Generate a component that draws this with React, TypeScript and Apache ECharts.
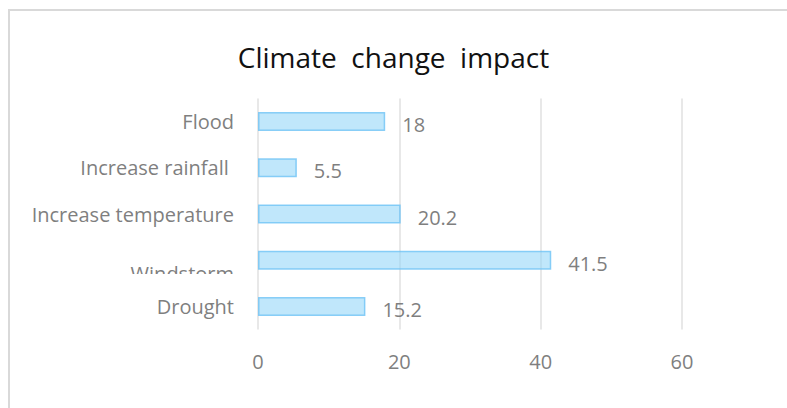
import React, { useEffect, useRef } from "react";
import * as echarts from "echarts";

// Categories listed top to bottom
const categories = ["Flood", "Increase rainfall ", "Increase temperature", "Windstorm", "Drought"];
const impactValues = [18, 5.5, 20.2, 41.5, 15.2];
const axisTicks = { min: 0, max: 80, interval: 20 };

const FONT = "'Open Sans', 'Noto Sans', sans-serif";
const GRAY = "#7f7f7f";

export default function App() {
  const ref = useRef<HTMLDivElement>(null);

  useEffect(() => {
    if (!ref.current) return;
    const chart = echarts.init(ref.current, undefined, { renderer: "svg" });
    chart.setOption({
      animation: false,
      backgroundColor: "#ffffff",
      title: {
        text: "Climate  change  impact",
        left: "center",
        top: 38,
        textStyle: { fontFamily: FONT, fontSize: 28, fontWeight: "normal", color: "#111111" },
      },
      graphic: [
        {
          type: "rect",
          z: -1,
          shape: { x: 9, y: 10, width: 900, height: 500 },
          style: { fill: "none", stroke: "#d9d9d9", lineWidth: 2 },
        },
        {
          // the lower part of the Windstorm label is hidden behind the plot edge
          type: "rect",
          z: 100,
          shape: { x: 90, y: 274, width: 160, height: 16 },
          style: { fill: "#ffffff" },
        },
      ],
      grid: {
        left: 258,
        top: 98.4,
        height: 231.2,
        width: 565.3,
        containLabel: false,
        outerBoundsMode: "none",
      },
      xAxis: {
        type: "value",
        min: axisTicks.min,
        max: axisTicks.max,
        interval: axisTicks.interval,
        axisLine: { show: false },
        axisTick: { show: false },
        splitLine: { lineStyle: { color: "#e8e8e8", width: 2 } },
        axisLabel: { fontFamily: FONT, fontSize: 20, color: GRAY, margin: 22, showMaxLabel: false },
      },
      yAxis: {
        type: "category",
        inverse: true,
        data: categories,
        axisLine: { show: false },
        axisTick: { show: false },
        axisLabel: {
          fontFamily: FONT,
          fontSize: 20,
          color: GRAY,
          margin: 24,
          formatter: (v: string) => (v === "Windstorm" ? `{low|${v}}` : v),
          rich: {
            low: { fontFamily: FONT, fontSize: 20, color: GRAY, padding: [26, 0, 0, 0] },
          },
        },
      },
      series: [
        {
          type: "bar",
          data: impactValues,
          barWidth: 19,
          itemStyle: {
            color: "rgba(140, 212, 248, 0.55)",
            borderColor: "rgba(110, 195, 245, 0.8)",
            borderWidth: 1.5,
          },
          label: {
            show: true,
            position: "right",
            distance: 17,
            offset: [0, 3],
            fontFamily: FONT,
            fontSize: 20,
            color: GRAY,
          },
        },
      ],
    });
    return () => chart.dispose();
  }, []);

  return (
    <div
      ref={ref}
      style={{ position: "fixed", left: 0, top: 0, width: 787, height: 408 }}
    />
  );
}
